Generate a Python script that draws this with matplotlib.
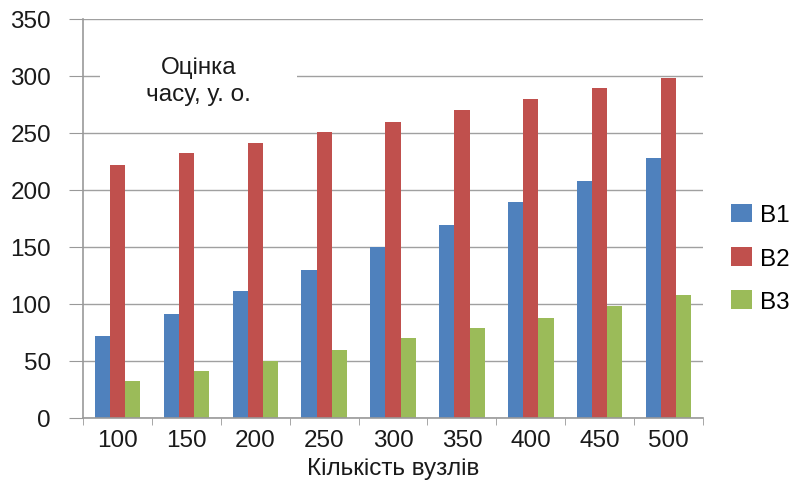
import numpy as np
import matplotlib.pyplot as plt
from matplotlib.patches import Rectangle

plt.rcParams["font.family"] = ["Liberation Sans", "DejaVu Sans"]

# Time estimate per number of nodes for the three variants
nodes = ["100", "150", "200", "250", "300", "350", "400", "450", "500"]
b1 = [72, 91, 111, 130, 150, 169, 189, 208, 228]
b2 = [222, 232, 241, 251, 260, 270, 280, 289, 298]
b3 = [32, 41, 50, 60, 70, 79, 88, 98, 108]

colors = ["#4f81bd", "#c0504d", "#9bbb59"]
fs = 17.5

fig = plt.figure(figsize=(7.95, 4.81), dpi=100)
ax = fig.add_axes([0.1044, 0.129, 0.78, 0.8295])
ax.set_axisbelow(True)

x = np.arange(len(nodes))
w = 0.22
for i, (vals, lab) in enumerate(zip([b1, b2, b3], ["B1", "B2", "B3"])):
    ax.bar(x + (i - 1) * w, vals, w, color=colors[i], label=lab, zorder=2)

ax.set_xlim(-0.5, len(nodes) - 0.5)
ax.set_ylim(0, 350)
ax.set_yticks(range(0, 351, 50))
ax.set_xticks(x)
ax.set_xticklabels(nodes)
ax.set_xticks(np.arange(-0.5, len(nodes), 1), minor=True)
ax.tick_params(axis="x", which="major", length=0, labelsize=fs, pad=8, labelcolor="#1a1a1a")
ax.tick_params(axis="x", which="minor", length=5, color="#999999")
ax.tick_params(axis="y", length=10, color="#999999", labelsize=fs, pad=13, labelcolor="#1a1a1a")

ax.grid(axis="y", color="#a0a0a0", linewidth=1)
for s in ["top", "right"]:
    ax.spines[s].set_visible(False)
for s in ["left", "bottom"]:
    ax.spines[s].set_color("#999999")
    ax.spines[s].set_linewidth(1.2)
    ax.spines[s].set_zorder(2.5)

ax.set_xlabel("Кількість вузлів", fontsize=fs, color="#1a1a1a", labelpad=4)

# axis title sits inside the plot; white strip hides the gridline behind it
ax.add_patch(Rectangle((-0.25, 288), 2.85, 24, facecolor="white",
                       edgecolor="none", zorder=1))
ax.text(1.18, 296, "Оцінка\nчасу, у. о.", ha="center", va="center",
        fontsize=fs, color="#1a1a1a", linespacing=1.35, zorder=3)

ax.legend(loc="center left", bbox_to_anchor=(1.045, 0.40), frameon=False,
          fontsize=fs, handlelength=0.85, handleheight=0.8,
          labelspacing=0.85, handletextpad=0.35, borderaxespad=0,
          borderpad=0)

fig.savefig("out.png", dpi=100)
